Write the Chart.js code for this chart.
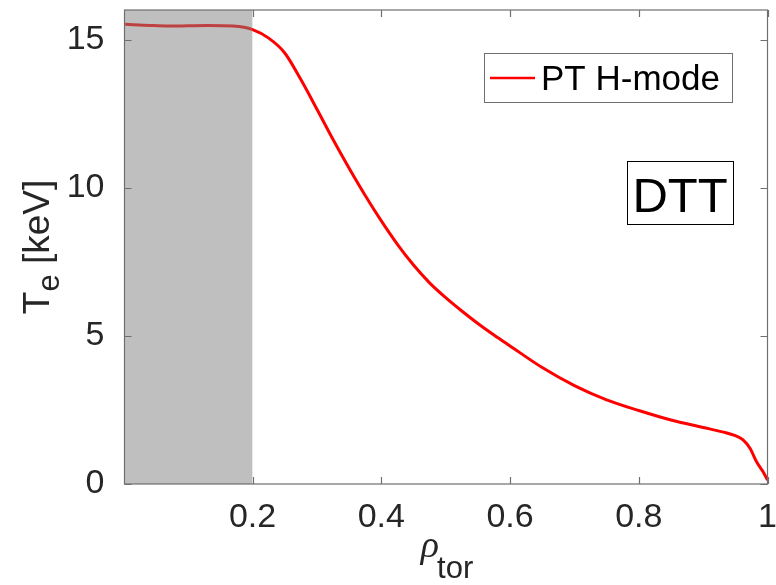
<!DOCTYPE html>
<html>
<head>
<meta charset="utf-8">
<title>Te profile</title>
<script src="https://cdn.jsdelivr.net/npm/chart.js@4.4.1/dist/chart.umd.min.js"></script>
<style>
  html, body { margin: 0; padding: 0; background: #fff; }
  #chart { display: block; }
</style>
</head>
<body>
<canvas id="chart" width="776" height="585"></canvas>
<script>
  // Electron temperature profile vs. normalised toroidal radius
  const rhoTor = [0.002, 0.04, 0.07, 0.13, 0.17, 0.2, 0.225, 0.25, 0.275, 0.3,
    0.325, 0.35, 0.375, 0.4, 0.425, 0.45, 0.475, 0.5, 0.525, 0.55,
    0.575, 0.6, 0.65, 0.7, 0.75, 0.8, 0.85, 0.9, 0.93, 0.95,
    0.962, 0.973, 0.983, 0.994, 1.0];
  const teKeV = [15.52, 15.48, 15.46, 15.48, 15.46, 15.34, 15.05, 14.55, 13.65, 12.65,
    11.63, 10.66, 9.74, 8.88, 8.09, 7.39, 6.79, 6.29, 5.84, 5.42,
    5.03, 4.66, 3.93, 3.32, 2.84, 2.48, 2.16, 1.91, 1.76, 1.63,
    1.49, 1.20, 0.75, 0.38, 0.13];

  // shaded core region
  const shadeX = [0.001, 0.2];
  const shadeTop = 16;

  const xTicks = [0.2, 0.4, 0.6, 0.8, 1];
  const yTicks = [0, 5, 10, 15];
  const seriesLabel = 'PT H-mode';
  const boxLabel = 'DTT';

  const FONT = '"Liberation Sans", Arial, Helvetica, sans-serif';
  const INK = '#262626';
  const AXIS = '#6f6f6f';

  // axes box, inward ticks, titles, legend and text box
  const framePlugin = {
    id: 'frame',
    afterDraw(chart) {
      const { ctx, chartArea: a, scales } = chart;
      const xs = scales.x, ys = scales.y;
      const tl = 7;
      ctx.save();

      ctx.strokeStyle = AXIS;
      ctx.lineWidth = 1.2;
      ctx.strokeRect(a.left, a.top, a.right - a.left, a.bottom - a.top);

      ctx.beginPath();
      xTicks.forEach(v => {
        const px = Math.round(xs.getPixelForValue(v)) + 0.5;
        ctx.moveTo(px, a.bottom); ctx.lineTo(px, a.bottom - tl);
        ctx.moveTo(px, a.top); ctx.lineTo(px, a.top + tl);
      });
      yTicks.forEach(v => {
        const py = Math.round(ys.getPixelForValue(v)) + 0.5;
        ctx.moveTo(a.left, py); ctx.lineTo(a.left + tl, py);
        ctx.moveTo(a.right, py); ctx.lineTo(a.right - tl, py);
      });
      ctx.stroke();

      // x title: rho_tor
      ctx.fillStyle = INK;
      ctx.textBaseline = 'alphabetic';
      ctx.textAlign = 'left';
      const rhoFont = 'italic 38px "Liberation Serif", "DejaVu Serif", serif';
      const subFont = '31px ' + FONT;
      ctx.font = rhoFont;
      const wRho = ctx.measureText('\u03c1').width;
      ctx.font = subFont;
      const wTor = ctx.measureText('tor').width;
      let x0 = (a.left + a.right) / 2 - (wRho + wTor) / 2 + 2;
      ctx.font = rhoFont;
      ctx.fillText('\u03c1', x0, 557);
      ctx.font = subFont;
      ctx.fillText('tor', x0 + wRho - 2, 578);

      // y title: T_e [keV]
      const mainFont = '37px ' + FONT;
      ctx.font = mainFont;
      const wT = ctx.measureText('T').width;
      const wRest = ctx.measureText(' [keV]').width;
      ctx.font = subFont;
      const wE = ctx.measureText('e').width;
      ctx.translate(49, (a.top + a.bottom) / 2);
      ctx.rotate(-Math.PI / 2);
      x0 = -(wT + wE + wRest) / 2;
      ctx.font = mainFont;
      ctx.fillText('T', x0, 0);
      ctx.font = subFont;
      ctx.fillText('e', x0 + wT, 10);
      ctx.font = mainFont;
      ctx.fillText(' [keV]', x0 + wT + wE, 0);
      ctx.setTransform(1, 0, 0, 1, 0, 0);

      // legend
      const ds = chart.data.datasets[0];
      const lgR = a.right - 35.5, lgT = a.top + 43, lgW = 248, lgH = 49;
      ctx.fillStyle = '#fff';
      ctx.fillRect(lgR - lgW, lgT, lgW, lgH);
      ctx.strokeStyle = AXIS;
      ctx.lineWidth = 1;
      ctx.strokeRect(lgR - lgW + 0.5, lgT + 0.5, lgW, lgH);
      ctx.strokeStyle = ds.borderColor;
      ctx.lineWidth = 2.5;
      ctx.beginPath();
      ctx.moveTo(lgR - lgW + 6, lgT + 25);
      ctx.lineTo(lgR - lgW + 51, lgT + 25);
      ctx.stroke();
      ctx.fillStyle = '#000';
      ctx.font = '35px ' + FONT;
      ctx.fillText(ds.label, lgR - lgW + 57, lgT + 37);

      // text box
      const bxR = a.right - 34.5, bxT = a.top + 151, bxW = 106, bxH = 63;
      ctx.fillStyle = '#fff';
      ctx.fillRect(bxR - bxW, bxT, bxW, bxH);
      ctx.strokeStyle = '#000';
      ctx.lineWidth = 1;
      ctx.strokeRect(bxR - bxW + 0.5, bxT + 0.5, bxW, bxH);
      ctx.fillStyle = '#000';
      ctx.font = '49px ' + FONT;
      ctx.textAlign = 'center';
      ctx.fillText(boxLabel, bxR - bxW / 2, bxT + 51);

      ctx.restore();
    }
  };

  const ctx = document.getElementById('chart').getContext('2d');
  const chart = new Chart(ctx, {
    type: 'line',
    data: {
      datasets: [
        {
          label: seriesLabel,
          data: rhoTor.map((r, i) => ({ x: r, y: teKeV[i] })),
          borderColor: '#ff0000',
          borderWidth: 3,
          pointRadius: 0,
          fill: false,
          cubicInterpolationMode: 'monotone',
          order: 2
        },
        {
          label: 'shade',
          data: shadeX.map(x => ({ x: x, y: shadeTop })),
          borderWidth: 0,
          borderColor: 'rgba(0,0,0,0)',
          backgroundColor: 'rgba(128,128,128,0.5)',
          pointRadius: 0,
          fill: 'origin',
          order: 1
        }
      ]
    },
    options: {
      responsive: false,
      animation: false,
      devicePixelRatio: 1,
      layout: { padding: { left: 0, top: 10, right: 8.5, bottom: 0 } },
      plugins: {
        legend: { display: false },
        tooltip: { enabled: false }
      },
      scales: {
        x: {
          type: 'linear',
          min: 0.001,
          max: 1,
          grid: { display: false },
          border: { display: false },
          afterBuildTicks: s => { s.ticks = xTicks.map(v => ({ value: v })); },
          afterFit: s => { s.height = 101; s.paddingLeft = 0; s.paddingRight = 0; },
          ticks: {
            padding: 5,
            color: INK,
            font: { family: FONT, size: 34 },
            maxRotation: 0,
            callback: v => (v === 1 ? '1' : v.toFixed(1))
          }
        },
        y: {
          min: 0,
          max: 16,
          grid: { display: false },
          border: { display: false },
          afterBuildTicks: s => { s.ticks = yTicks.map(v => ({ value: v })); },
          afterFit: s => { s.width = 124.5; s.paddingTop = 0; s.paddingBottom = 0; },
          ticks: {
            padding: 12,
            color: INK,
            font: { family: FONT, size: 34 },
            callback: v => String(v)
          }
        }
      }
    },
    plugins: [framePlugin]
  });
</script>
</body>
</html>
